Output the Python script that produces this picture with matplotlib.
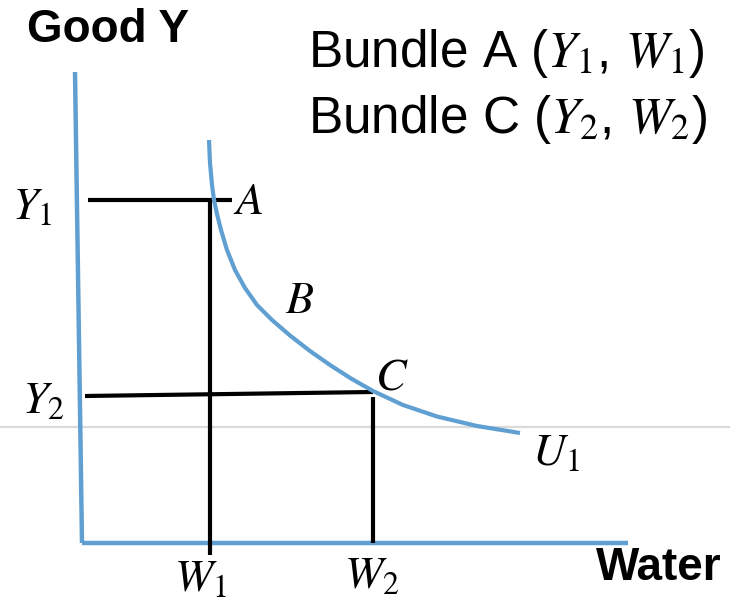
import matplotlib; matplotlib.use("Agg")
import matplotlib.pyplot as plt

plt.rcParams.update({"mathtext.fontset": "stix", "font.family": "Liberation Sans"})

BLUE = "#5f9fd2"

# values in chart units (origin where the axes meet)
axis_y = ([-0.7, 0.0], [47.1, 0.0])          # Good Y axis
axis_x = ([0.0, 54.6], [0.0, 0.0])           # Water axis
W1, W2 = 12.8, 29.1
Y1, Y2 = 34.3, 15.0
# indifference curve U1
u_x = [12.7, 12.8, 13.0, 13.2, 13.5, 13.9, 14.5, 15.3, 16.3, 17.5, 19.0, 20.8,
       22.8, 24.8, 26.9, 29.1, 32.1, 35.5, 39.5, 43.8]
u_y = [40.3, 38.0, 35.8, 34.3, 32.9, 31.3, 29.3, 27.3, 25.5, 23.8, 22.3, 20.75,
       19.2, 17.8, 16.45, 15.2, 13.8, 12.65, 11.7, 11.0]
grid_y = 11.6

fig = plt.figure(figsize=(7.3, 6.07), dpi=100)
ax = fig.add_axes([0, 0, 1, 1])
ax.set_xlim(-8.2, 64.8); ax.set_ylim(-6.4, 54.3); ax.axis("off")

ax.axhline(grid_y, color="#dadada", lw=1.6, zorder=0)

ax.plot(*axis_y, color=BLUE, lw=3.2, solid_capstyle="butt")
ax.plot(*axis_x, color=BLUE, lw=3.2, solid_capstyle="butt")

# guide lines
ax.plot([0.6, 15.0], [Y1, Y1], color="k", lw=3, solid_capstyle="butt")
ax.plot([W1, W1], [Y1, -1.2], color="k", lw=3, solid_capstyle="butt")
ax.plot([0.3, W2], [Y2 - 0.3, Y2 + 0.1], color="k", lw=3, solid_capstyle="butt")
ax.plot([W2, W2], [Y2 - 0.4, 0], color="k", lw=3, solid_capstyle="butt")

ax.plot(u_x, u_y, color=BLUE, lw=3, solid_capstyle="butt", solid_joinstyle="round")

ax.text(-5.5, 51.3, "Good Y", fontsize=33, fontweight="bold", ha="left", va="center")
ax.text(64.0, -2.5, "Water", fontsize=33, fontweight="bold", ha="right", va="center")
ax.text(22.6, 47.6, "Bundle A ($Y_1$, $W_1$)", fontsize=37, ha="left", va="baseline")
ax.text(22.6, 41.0, "Bundle C ($Y_2$, $W_2$)", fontsize=37, ha="left", va="baseline")

lab = dict(fontsize=33, ha="center", va="center")
ax.text(-5.0, 33.6, "$Y_1$", **lab)
ax.text(-3.9, 14.2, "$Y_2$", **lab)
ax.text(16.6, 34.1, "$A$", **lab)
ax.text(21.8, 24.2, "$B$", **lab)
ax.text(31.0, 16.5, "$C$", **lab)
ax.text(47.4, 9.0, "$U_1$", **lab)
ax.text(11.8, -3.6, "$W_1$", fontsize=33, ha="center", va="center")
ax.text(29.0, -3.3, "$W_2$", fontsize=33, ha="center", va="center")

plt.savefig("out.png", dpi=100)
